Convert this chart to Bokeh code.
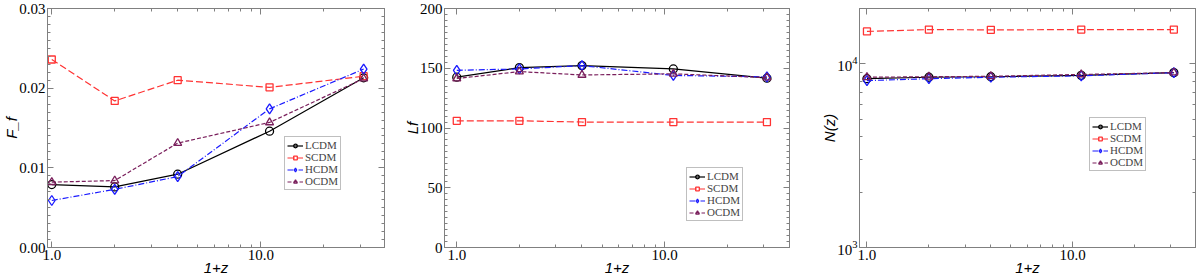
from bokeh.plotting import figure
from bokeh.layouts import row
from bokeh.models import (FixedTicker, PrintfTickFormatter, LogAxis, LinearAxis,
                          Legend, LegendItem, LogTickFormatter, Range1d)
from bokeh.embed import file_html
from bokeh.resources import INLINE

one_plus_z = [1, 2, 4, 11, 31]
models = ["LCDM", "SCDM", "HCDM", "OCDM"]

Ff = {
    "LCDM": [0.0079, 0.0076, 0.0092, 0.0146, 0.0213],
    "SCDM": [0.0236, 0.0184, 0.0210, 0.0201, 0.0215],
    "HCDM": [0.0059, 0.0073, 0.0089, 0.0174, 0.0224],
    "OCDM": [0.0082, 0.0084, 0.0131, 0.0157, 0.0212],
}
Lf = {
    "LCDM": [142.5, 150.5, 152.2, 149.4, 141.7],
    "SCDM": [106, 106, 105, 105, 105],
    "HCDM": [148.3, 149.4, 152.2, 144.0, 142.8],
    "OCDM": [141.4, 147.2, 144.4, 145.3, 142.2],
}
Nz = {
    "LCDM": [8300, 8450, 8500, 8650, 8950],
    "SCDM": [15000, 15350, 15300, 15350, 15350],
    "HCDM": [8100, 8300, 8450, 8600, 8950],
    "OCDM": [8450, 8500, 8550, 8750, 8950],
}

x_major = [1, 10]
x_minor = [2, 3, 4, 5, 6, 7, 8, 9, 20, 30, 40]

style = {
    "LCDM": dict(color="#000000", dash="solid", marker="circle", size=8),
    "SCDM": dict(color="#ff3333", dash="7 3", marker="square", size=7),
    "HCDM": dict(color="#1a1aff", dash="6 2 1 2", marker="diamond", size=10),
    "OCDM": dict(color="#7a1f5c", dash="4 2", marker="triangle", size=8),
}

GRAY = "#808080"
TICK_FONT = "Liberation Serif"
LABEL_FONT = "Liberation Sans"


def style_axis(ax, show_labels=True):
    ax.axis_line_color = GRAY
    ax.major_tick_line_color = GRAY
    ax.minor_tick_line_color = GRAY
    ax.major_tick_in = 6
    ax.major_tick_out = 0
    ax.minor_tick_in = 3
    ax.minor_tick_out = 0
    ax.major_label_text_font = TICK_FONT
    ax.major_label_text_font_size = "15px"
    ax.major_label_text_color = "black"
    ax.axis_label_text_font = LABEL_FONT
    ax.axis_label_text_font_style = "italic"
    ax.axis_label_text_font_size = "15px"
    ax.axis_label_text_color = "black"
    ax.axis_label_standoff = -4
    ax.major_label_standoff = 2
    if not show_labels:
        ax.major_label_text_font_size = "0px"
        ax.major_label_text_alpha = 0
        ax.major_label_standoff = 0
        ax.axis_label_standoff = 0


def make_panel(data, ylabel, x_range, y_range, y_log, y_ticks, y_minor, y_fmt,
               frame_w, border_left, border_right, legend_xy):
    p = figure(frame_width=frame_w, frame_height=239, x_axis_type="log",
               y_axis_type="log" if y_log else "linear",
               x_range=Range1d(*x_range), y_range=Range1d(*y_range),
               output_backend="svg", toolbar_location=None,
               min_border_left=border_left, min_border_right=border_right,
               min_border_top=8, min_border_bottom=0)
    p.grid.visible = False
    p.outline_line_color = GRAY
    p.background_fill_color = "white"
    p.border_fill_color = "white"

    xt = FixedTicker(ticks=x_major, minor_ticks=x_minor)
    yt = FixedTicker(ticks=y_ticks, minor_ticks=y_minor)

    p.xaxis.ticker = xt
    p.xaxis.formatter = PrintfTickFormatter(format="%.1f")
    p.xaxis.axis_label = "1+z"
    style_axis(p.xaxis[0])

    p.yaxis.ticker = yt
    if y_log:
        p.yaxis.formatter = LogTickFormatter()
    elif y_fmt:
        p.yaxis.formatter = PrintfTickFormatter(format=y_fmt)
    p.yaxis.axis_label = ylabel
    style_axis(p.yaxis[0])

    top = LogAxis(ticker=xt)
    style_axis(top, show_labels=False)
    p.add_layout(top, "above")
    right = LogAxis(ticker=yt) if y_log else LinearAxis(ticker=yt)
    style_axis(right, show_labels=False)
    p.add_layout(right, "right")

    items = []
    for m in models:
        s = style[m]
        ln = p.line(one_plus_z, data[m], line_color=s["color"], line_width=1.2,
                    line_dash=s["dash"])
        sc = p.scatter(one_plus_z, data[m], marker=s["marker"], size=s["size"],
                       line_color=s["color"], fill_color=None, line_width=1.3)
        items.append(LegendItem(label=m, renderers=[ln, sc]))

    leg = Legend(items=items, location=legend_xy)
    leg.label_text_font = TICK_FONT
    leg.label_text_font_size = "11px"
    leg.label_height = 9
    leg.label_standoff = 2
    leg.glyph_height = 9
    leg.glyph_width = 16
    leg.spacing = 0
    leg.padding = 2
    leg.margin = 0
    leg.border_line_color = GRAY
    leg.border_line_width = 1
    leg.background_fill_alpha = 1
    p.add_layout(leg, "center")
    return p


p1 = make_panel(Ff, "F_f", (0.954, 39.0), (0.0, 0.03), False,
                [0.0, 0.01, 0.02, 0.03],
                [i * 0.001 for i in range(31)], "%.2f",
                frame_w=337, border_left=45, border_right=10,
                legend_xy=(237, 57))

p2 = make_panel(Lf, "Lf", (0.873, 39.8), (0.0, 200.0), False,
                [0, 50, 100, 150, 200],
                [i * 5 for i in range(41)], "%d",
                frame_w=345, border_left=50, border_right=10,
                legend_xy=(242, 26))

p3 = make_panel(Nz, "N(z)", (0.92, 39.5), (1000, 20000), True,
                [1000, 10000],
                [2000, 3000, 4000, 5000, 6000, 7000, 8000, 9000, 20000], None,
                frame_w=336, border_left=60, border_right=4,
                legend_xy=(230, 76))

layout = row(p1, p2, p3)
open("out.html", "w").write(file_html(layout, INLINE))
